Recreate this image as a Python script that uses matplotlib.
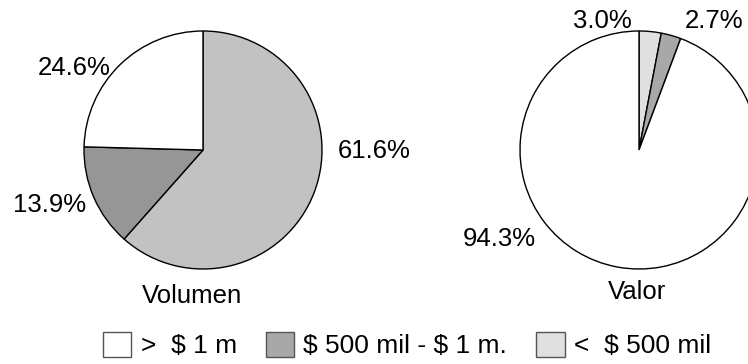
import matplotlib
matplotlib.use("Agg")
import matplotlib.pyplot as plt
from matplotlib.patches import Patch

# --- Datos ---
categorias = ["> $ 1 m", "$ 500 mil - $ 1 m.", "< $ 500 mil"]
# orden de los sectores (desde las 12 en sentido horario): < 500 mil, 500 mil - 1 m, > 1 m
volumen_valores = [61.6, 13.9, 24.6]
valor_valores = [3.0, 2.7, 94.3]
volumen_colores = ["#c2c2c2", "#969696", "#ffffff"]
valor_colores = ["#e0e0e0", "#a8a8a8", "#ffffff"]
leyenda_colores = ["#ffffff", "#a8a8a8", "#e0e0e0"]
leyenda_textos = [">  $ 1 m", "$ 500 mil - $ 1 m.", "<  $ 500 mil"]

plt.rcParams["font.family"] = ["Liberation Sans", "DejaVu Sans"]
plt.rcParams["text.parse_math"] = False   # los "$" son texto, no mathtext
FS = 18.5

W, H = 748, 364
fig = plt.figure(figsize=(W / 100, H / 100), dpi=100)
fig.patch.set_facecolor("white")


def eje_pie(cx, cy, r):
    # cx, cy, r en pixeles (origen arriba a la izquierda)
    ax = fig.add_axes([(cx - r) / W, (H - cy - r) / H, 2 * r / W, 2 * r / H])
    ax.set_xlim(-1, 1)
    ax.set_ylim(-1, 1)
    ax.set_aspect("equal")
    ax.axis("off")
    return ax


# --- Pie izquierdo: Volumen ---
ax1 = eje_pie(203, 150, 119)
ax1.pie(volumen_valores, colors=volumen_colores, startangle=90, counterclock=False,
        radius=1, wedgeprops={"edgecolor": "black", "linewidth": 1.0})
ax1.set_xlim(-1, 1)
ax1.set_ylim(-1, 1)
etiquetas_vol = [(1.44, -0.01), (-1.29, -0.46), (-1.08, 0.69)]
for v, (x, y) in zip(volumen_valores, etiquetas_vol):
    ax1.text(x, y, f"{v:.1f}%", ha="center", va="center", fontsize=FS, clip_on=False)
ax1.text(-0.09, -1.23, "Volumen", ha="center", va="center", fontsize=FS, clip_on=False)

# --- Pie derecho: Valor ---
ax2 = eje_pie(639, 150, 119)
ax2.pie(valor_valores, colors=valor_colores, startangle=90, counterclock=False,
        radius=1, wedgeprops={"edgecolor": "black", "linewidth": 1.0})
ax2.set_xlim(-1, 1)
ax2.set_ylim(-1, 1)
etiquetas_val = [(-0.31, 1.08), (0.63, 1.08), (-1.17, -0.75)]
for v, (x, y) in zip(valor_valores, etiquetas_val):
    ax2.text(x, y, f"{v:.1f}%", ha="center", va="center", fontsize=FS, clip_on=False)
ax2.text(-0.02, -1.19, "Valor", ha="center", va="center", fontsize=FS, clip_on=False)

# --- Leyenda ---
handles = [Patch(facecolor=c, edgecolor="#555555", linewidth=1.0) for c in leyenda_colores]
fig.legend(handles, leyenda_textos, loc="center", bbox_to_anchor=(407 / W, 1 - 345 / H),
           ncol=3, frameon=False, fontsize=19, handlelength=1.08, handleheight=1.1,
           handletextpad=0.35, columnspacing=1.1, borderpad=0.1)

plt.savefig("out.png", dpi=100)
